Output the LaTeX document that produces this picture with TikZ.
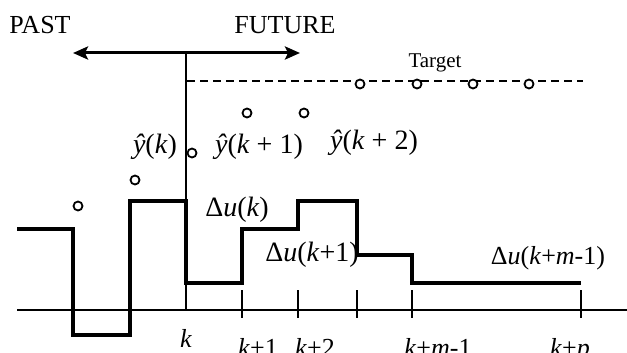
\documentclass[tikz,border=0pt]{standalone}
\usepackage{fontspec}
\setmainfont{Liberation Serif}
\usetikzlibrary{arrows.meta, positioning}

\begin{document}
\begin{tikzpicture}[
    x=1pt,
    y=-1pt,
    font=\fontsize{26}{30}\selectfont,
    lbl/.style={inner sep=0pt},
    big/.style={inner sep=0pt, font=\fontsize{28}{32}\selectfont},
    small/.style={inner sep=0pt, font=\fontsize{21}{24}\selectfont},
    timelbl/.style={inner sep=0pt, anchor=base},
    smp/.style={circle, draw, line width=1.8pt, inner sep=0pt, minimum size=9pt, fill=white},
    axis/.style={line width=1.5pt},
    signal/.style={line width=4pt, line join=miter},
    tickmark/.style={line width=1.5pt},
    target/.style={line width=1.5pt, dash pattern=on 8pt off 5pt},
    arrow/.style={{Stealth[length=15pt, width=13pt, inset=3pt]}-{Stealth[length=15pt, width=13pt, inset=3pt]}, line width=3pt}
]
\useasboundingbox (0,0) rectangle (627,353);
\clip (0,0) rectangle (627,353);
% past / future
\node[lbl] (past) at (40,25) {PAST};
\node[lbl] (future) at (285,25) {FUTURE};
\coordinate (pastend) at (73,53);
\coordinate (futend) at (300,53);
\coordinate (now) at (186,53);
\coordinate (kaxis) at (186,310);
\draw[arrow] (pastend) -- (futend);
\draw[axis] (now) -- (kaxis);
% time axis
\coordinate (axstart) at (17,310);
\coordinate (axend) at (627,310);
\draw[axis] (axstart) -- (axend);
% target
\coordinate (tgtstart) at (187,81);
\coordinate (tgtend) at (583,81);
\draw[target] (tgtstart) -- (tgtend);
\node[small] (tgtlbl) at (435,63) {Target};
% input moves
\draw[signal] (17,229) -- (73,229) -- (73,335) -- (130,335) -- (130,201) -- (186,201)
    -- (186,283) -- (242,283) -- (242,229) -- (298,229) -- (298,201) -- (357,201)
    -- (357,255) -- (412,255) -- (412,283) -- (581,283);
% ticks and time labels
\foreach \tx/\tname in {242/k1, 298/k2, 357/k3, 412/km, 581/kp}
    \draw[tickmark] (\tx,290) coordinate (\tname top) -- (\tx,318) coordinate (\tname bot);
\node[timelbl] (lk) at (186,347) {\textit{k}};
\node[timelbl] (lk1) at (258,356) {\textit{k}+1};
\node[timelbl] (lk2) at (315,356) {\textit{k}+2};
\node[timelbl] (lkm) at (438,356) {\textit{k}+\textit{m}-1};
\node[timelbl] (lkp) at (570,356) {\textit{k}+\textit{p}};
% predicted outputs
\node[smp] (y1) at (78,206) {};
\node[smp] (y2) at (135,180) {};
\node[smp] (y3) at (192,153) {};
\node[smp] (y4) at (247,113) {};
\node[smp] (y5) at (304,113) {};
\node[smp] (y6) at (360,84) {};
\node[smp] (y7) at (417,84) {};
\node[smp] (y8) at (473,84) {};
\node[smp] (y9) at (529,84) {};
\node[big] (lyk) at (155,147) {\textit{ŷ}(\textit{k})};
\node[big] (lyk1) at (259,147) {\textit{ŷ}(\textit{k} + 1)};
\node[big] (lyk2) at (374,143) {\textit{ŷ}(\textit{k} + 2)};
% move labels
\node[big] (luk) at (237,210) {Δ\textit{u}(\textit{k})};
\node[big] (luk1) at (312,255) {Δ\textit{u}(\textit{k}+1)};
\node[lbl] (lukm) at (548,258) {Δ\textit{u}(\textit{k}+\textit{m}-1)};
\end{tikzpicture}
\end{document}
